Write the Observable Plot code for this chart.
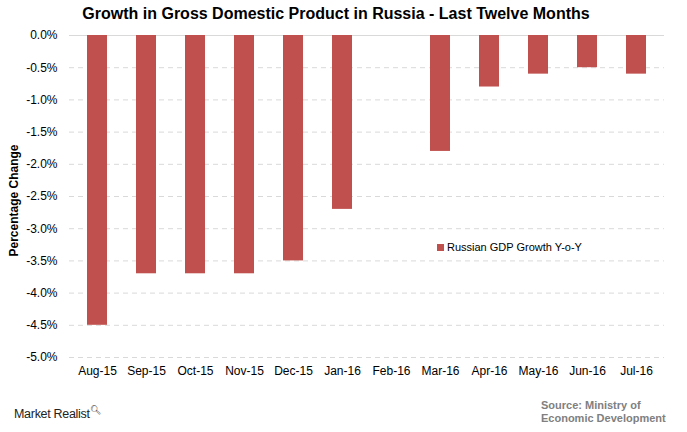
<!DOCTYPE html>
<html>
<head>
<meta charset="utf-8">
<script src="https://cdn.jsdelivr.net/npm/d3@7"></script>
<script src="https://cdn.jsdelivr.net/npm/@observablehq/plot@0.6"></script>
<style>
  html, body { margin: 0; padding: 0; background: #fff; }
  #wrap { position: relative; width: 687px; height: 432px; font-family: "Liberation Sans", Arial, sans-serif; }
  #wrap svg { position: absolute; left: 0; top: 0; }
  .title { position: absolute; left: 0; width: 672px; top: 5px; text-align: center; font-weight: bold; font-size: 16px; color: #000; }
  .legend { position: absolute; left: 437px; top: 241px; font-size: 11px; color: #000; display: flex; align-items: center; }
  .legend .sw { width: 7px; height: 7px; background: #c0504d; margin-right: 3px; }
  .logo { position: absolute; left: 14px; top: 405px; font-size: 12.5px; color: #222; letter-spacing: -0.3px; }
  .logo sup { font-size: 9px; }
  .source { position: absolute; left: 541px; top: 399px; font-size: 11px; font-weight: bold; color: #808080; line-height: 13px; }
</style>
</head>
<body>
<div id="wrap">
  <div class="title">Growth in Gross Domestic Product in Russia - Last Twelve Months</div>
</div>
<script>
const months = ["Aug-15","Sep-15","Oct-15","Nov-15","Dec-15","Jan-16","Feb-16","Mar-16","Apr-16","May-16","Jun-16","Jul-16"];
const gdpGrowth = [-4.5, -3.7, -3.7, -3.7, -3.5, -2.7, 0, -1.8, -0.8, -0.6, -0.5, -0.6];
const yTicks = [0, -0.5, -1, -1.5, -2, -2.5, -3, -3.5, -4, -4.5, -5];
const seriesName = "Russian GDP Growth Y-o-Y";
const yLabel = "Percentage Change";
const sourceLines = ["Source: Ministry of", "Economic Development"];

const data = months.map((m, i) => ({month: m, value: gdpGrowth[i]}));

const chart = Plot.plot({
  width: 687,
  height: 432,
  marginTop: 35,
  marginBottom: 75,
  marginLeft: 69,
  marginRight: 23,
  style: {fontFamily: "Liberation Sans, Arial, sans-serif", fontSize: "12px", color: "#000", background: "transparent"},
  x: {domain: months, paddingInner: 0.6, paddingOuter: 0.3, label: null},
  y: {domain: [-5, 0], label: null},
  marks: [
    Plot.ruleY(yTicks.filter(d => d !== 0), {stroke: "#d9d9d9", strokeWidth: 1, strokeDasharray: "5,4"}),
    Plot.ruleY([0], {stroke: "#d9d9d9", strokeWidth: 1}),
    Plot.barY(data, {x: "month", y: "value", fill: "#c0504d"}),
    Plot.axisY({ticks: yTicks, tickSize: 0, tickPadding: 12, tickFormat: d => d.toFixed(1) + "%", label: null, fontSize: 12}),
    Plot.axisX({tickSize: 0, tickPadding: 9, label: null, fontSize: 12}),
    Plot.text([yLabel], {frameAnchor: "left", dx: -55, dy: 4, rotate: -90, textAnchor: "middle", fontWeight: "bold", fontSize: 12, fill: "#000"})
  ]
});
const wrap = document.getElementById("wrap");
wrap.appendChild(chart);

const legend = document.createElement("div");
legend.className = "legend";
legend.innerHTML = '<div class="sw"></div><span></span>';
legend.querySelector("span").textContent = seriesName;
wrap.appendChild(legend);

const logo = document.createElement("div");
logo.className = "logo";
logo.innerHTML = 'Market Realist<sup>&#x1F50D;&#xFE0E;</sup>';
wrap.appendChild(logo);

const src = document.createElement("div");
src.className = "source";
src.innerHTML = sourceLines.join("<br>");
wrap.appendChild(src);
</script>
</body>
</html>
